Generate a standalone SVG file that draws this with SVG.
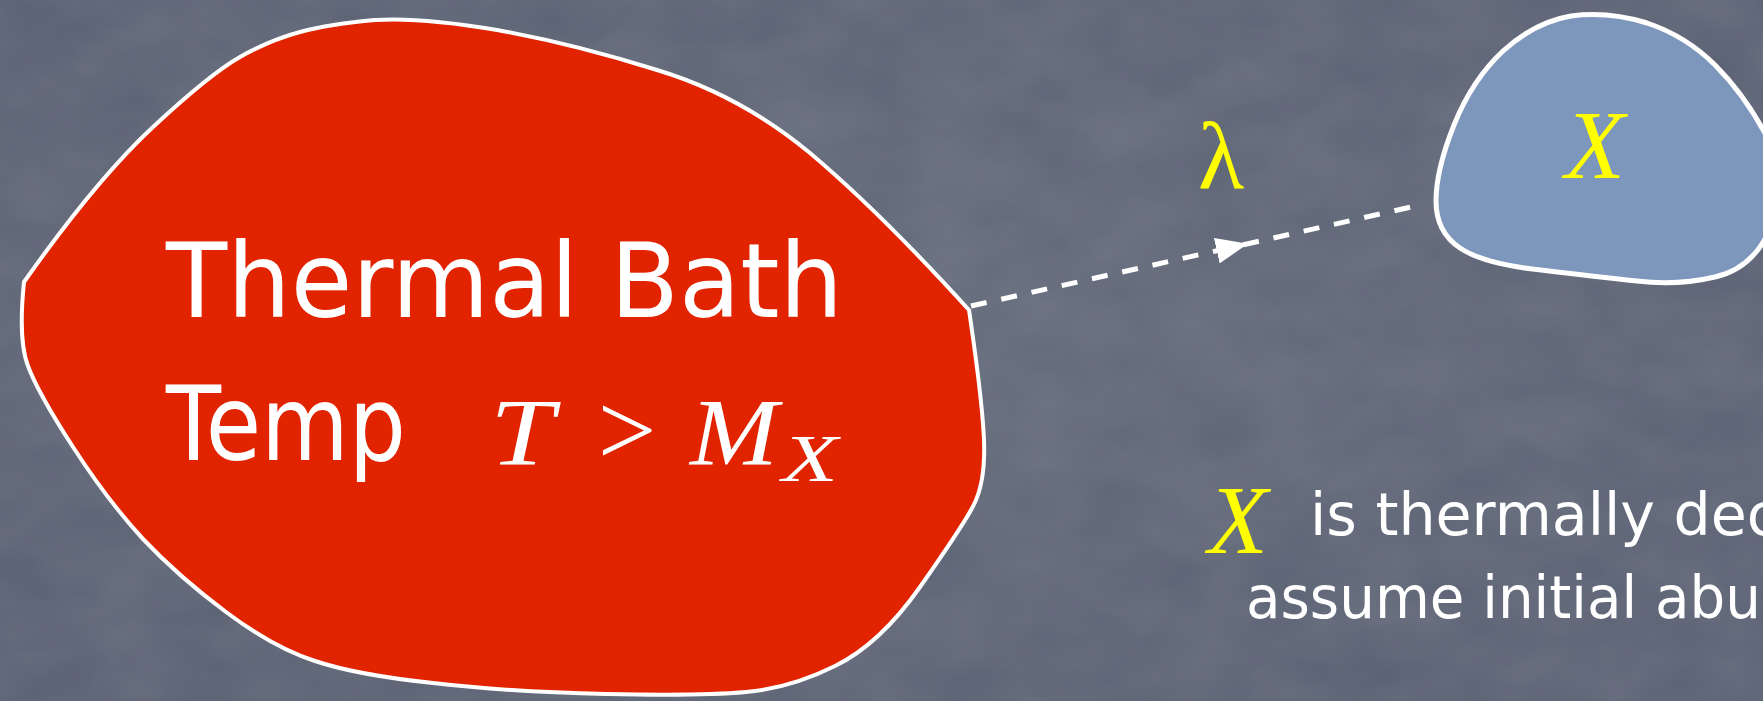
<svg xmlns="http://www.w3.org/2000/svg" width="1763" height="701" viewBox="0 0 1763 701">
  <defs>
    <style>
      .blob { stroke: #ffffff; stroke-linejoin: round; }
      .hand { font-family: "DejaVu Sans", "Liberation Sans", sans-serif; fill: #ffffff; }
      .math { font-family: "Liberation Serif", "DejaVu Serif", serif; }
      .it { font-style: italic; }
      .yel { fill: #ffff00; }
      .conn { fill: none; stroke: #ffffff; stroke-width: 5; stroke-dasharray: 16 15; }
    </style>
    <marker id="arrow" viewBox="0 0 10 10" refX="10" refY="5" markerUnits="userSpaceOnUse" markerWidth="32" markerHeight="26" preserveAspectRatio="none" orient="auto">
      <path d="M0,0 L10,5 L0,10 z" fill="#ffffff"/>
    </marker>
    <filter id="grain" x="0" y="0" width="100%" height="100%">
      <feTurbulence type="fractalNoise" baseFrequency="0.012 0.02" numOctaves="3" seed="4"/>
      <feColorMatrix type="matrix" values="0 0 0 0 1  0 0 0 0 1  0 0 0 0 1  0 0 0 0.10 0"/>
    </filter>
    <radialGradient id="bgGrad" cx="0.5" cy="0.45" r="0.75">
      <stop offset="0" stop-color="#626979"/>
      <stop offset="1" stop-color="#585f71"/>
    </radialGradient>
  </defs>

  <g id="background">
    <rect x="0" y="0" width="1763" height="701" fill="url(#bgGrad)"/>
    <rect x="0" y="0" width="1763" height="701" filter="url(#grain)"/>
  </g>

  <g id="connectors">
    <path class="conn" d="M971,306 L1248,243.7 L1420,205" marker-mid="url(#arrow)"/>
  </g>

  <g id="node-bath">
    <path class="blob" fill="#e12300" stroke-width="4"
      d="M24,282 Q96,180 153,127 Q210,74 240,57 Q270,40 300,32 Q330,24 375,20 Q421,17 497,30 Q574,44 657,70 Q740,95 810,153 Q880,212 969,310
         Q986,425 984,458 Q983,490 971,510 Q960,530 920,587 Q880,644 835,666 Q791,688 746,692 Q702,696 606,694 Q510,692 433,683 Q357,675 315,661 Q274,648 226,612 Q179,577 143,539 Q108,501 73,447 Q38,393 28,366 Q18,340 24,282 Z"/>
    <text class="hand" x="166" y="317" font-size="104" textLength="677" lengthAdjust="spacingAndGlyphs">Thermal Bath</text>
    <text class="hand" x="166" y="460" font-size="104" textLength="240" lengthAdjust="spacingAndGlyphs">Temp</text>
    <g class="math" fill="#ffffff">
      <text class="it" x="490" y="465" font-size="95" textLength="64" lengthAdjust="spacingAndGlyphs">T</text>
      <text x="627" y="465" font-size="104" text-anchor="middle">&gt;</text>
      <text class="it" x="690" y="465" font-size="95" textLength="88" lengthAdjust="spacingAndGlyphs">M</text>
      <text class="it" x="782" y="481" font-size="68" textLength="56" lengthAdjust="spacingAndGlyphs">X</text>
    </g>
  </g>

  <g id="node-x">
    <path class="blob" fill="#7d96bc" stroke-width="5"
      d="M1571,16 Q1608,11 1647,23 Q1686,36 1715,65 Q1745,95 1767,137 Q1790,180 1772,224 Q1755,268 1715,277 Q1676,286 1637,281 Q1598,277 1541,270 Q1484,264 1460,248 Q1436,232 1436,201 Q1436,170 1454,125 Q1472,80 1503,51 Q1535,22 1571,16 Z"/>
    <text class="math it yel" x="1595" y="178" font-size="98" text-anchor="middle">X</text>
  </g>

  <g id="label-lambda">
    <text class="math yel" x="1221" y="188" font-size="95" text-anchor="middle">λ</text>
  </g>

  <g id="note">
    <text class="math it yel" x="1238" y="553" font-size="98" text-anchor="middle">X</text>
    <text class="hand" x="1310" y="535" font-size="58" textLength="469" lengthAdjust="spacingAndGlyphs">is thermally dec</text>
    <text class="hand" x="1246" y="618" font-size="58" textLength="515" lengthAdjust="spacingAndGlyphs">assume initial abu</text>
  </g>
</svg>
